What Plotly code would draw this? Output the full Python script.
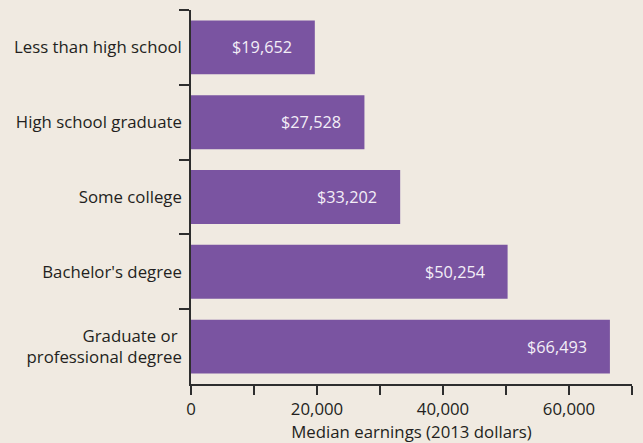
import plotly.graph_objects as go

categories = ["Less than high school", "High school graduate", "Some college",
              "Bachelor's degree", "Graduate or <br>professional degree"]
earnings = [19652, 27528, 33202, 50254, 66493]
bar_labels = ["$19,652", "$27,528", "$33,202", "$50,254", "$66,493"]
x_tickvals = [0, 10000, 20000, 30000, 40000, 50000, 60000, 70000]
x_ticktext = ["0", "", "20,000", "", "40,000", "", "60,000", ""]

BG = "#f0eae1"
BAR = "#7a54a1"
AX = "#2e2e2e"
TXT = "#231f20"
FONT = "Open Sans"
FS = 16.8
W = 400

fig = go.Figure()
fig.add_trace(go.Bar(
    x=earnings, y=categories, orientation="h",
    marker=dict(color=BAR, line=dict(width=0)),
    width=0.72, hoverinfo="skip",
))

for v, c, t in zip(earnings, categories, bar_labels):
    fig.add_annotation(x=v, y=c, text=t, showarrow=False,
                       xanchor="right", xshift=-21,
                       font=dict(family=FONT, size=16.3, color="#f3eef7", weight=W))

fig.update_layout(
    width=643, height=443,
    margin=dict(l=191, r=11, t=10, b=59),
    paper_bgcolor=BG, plot_bgcolor=BG,
    showlegend=False,
    font=dict(family=FONT, size=FS, color=TXT, weight=W),
    bargap=0.28,
)
fig.update_xaxes(
    range=[0, 70000], tickvals=x_tickvals, ticktext=x_ticktext,
    ticks="outside", ticklen=9, tickwidth=1.5, tickcolor=AX,
    showline=True, linecolor=AX, linewidth=1.5,
    showgrid=False, zeroline=False, automargin=False,
    title=dict(text="Median earnings (2013 dollars)", standoff=2,
               font=dict(family=FONT, size=FS, color=TXT, weight=W)),
    tickfont=dict(family=FONT, size=FS, color=TXT, weight=W),
)
fig.update_yaxes(
    categoryorder="array", categoryarray=categories,
    range=[4.5, -0.5], tickson="boundaries",
    ticks="outside", ticklen=10, tickwidth=1.5, tickcolor=AX,
    showline=True, linecolor=AX, linewidth=1.5,
    showgrid=False, zeroline=False, automargin=False,
    ticklabelstandoff=4,
    tickfont=dict(family=FONT, size=FS, color=TXT, weight=W),
)

fig.write_html(
    "out.html",
    config={"displayModeBar": False},
    post_script="document.body.style.margin='0';"
                "document.body.style.background='" + BG + "';",
)
